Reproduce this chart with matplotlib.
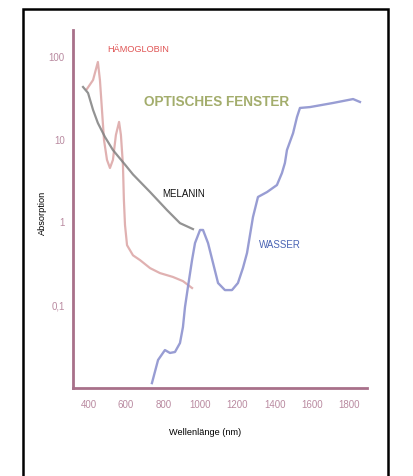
import matplotlib.pyplot as plt
from matplotlib.patches import Rectangle

plt.rcParams['font.family'] = ['Liberation Sans', 'DejaVu Sans']

# Absorptionsspektren, Wellenlänge in nm
melanin_nm = [368, 395, 422, 448, 486, 529, 594, 637, 729, 820, 890, 960]
melanin_abs = [43.4, 36.7, 22.9, 15.9, 10.8, 7.5, 5.0, 3.8, 2.33, 1.41, 0.98, 0.83]

haemo_nm = [389, 422, 448, 459, 470, 481, 497, 513, 529, 545, 562, 572, 583,
            588, 594, 605, 637, 675, 729, 782, 852, 906, 955]
haemo_abs = [41, 52.7, 87, 52.7, 22.9, 9.9, 5.7, 4.55, 5.7, 11.4, 16.4, 11.4, 4.9,
             1.87, 0.93, 0.53, 0.40, 0.35, 0.28, 0.244, 0.219, 0.195, 0.161]

wasser_nm = [739, 772, 809, 836, 863, 890, 906, 917, 933, 955, 971, 998, 1014,
             1041, 1068, 1095, 1132, 1170, 1202, 1229, 1251, 1283, 1310, 1359,
             1412, 1439, 1455, 1466, 1499, 1520, 1536, 1590, 1714, 1822, 1859]
wasser_abs = [0.0114, 0.0217, 0.0286, 0.0264, 0.0271, 0.0348, 0.0543, 0.0948,
              0.166, 0.351, 0.563, 0.81, 0.81, 0.563, 0.323, 0.185, 0.152, 0.152,
              0.185, 0.281, 0.427, 1.16, 2.03, 2.33, 2.83, 3.95, 5.23, 7.5, 12.0,
              18.8, 24.2, 24.8, 27.8, 31, 28.6]

x_ticks = [400, 600, 800, 1000, 1200, 1400, 1600, 1800]
y_ticks = [100, 10, 1, 0.1]
y_ticklabels = ['100', '10', '1', '0,1']

mauve = '#a8708a'
mauve_light = '#b98aa0'

fig = plt.figure(figsize=(4.14, 4.76), dpi=100)
fig.patches.append(Rectangle((23 / 414, -0.05), 365 / 414, 1 - 9 / 476 + 0.05,
                             transform=fig.transFigure, fill=False,
                             edgecolor='black', linewidth=1.8))

ax = fig.add_axes([73 / 414, 1 - 388 / 476, 294 / 414, 358 / 476])
ax.set_yscale('log')
ax.set_xlim(314, 1897)
ax.set_ylim(0.00995, 212)

ax.plot(haemo_nm, haemo_abs, color='#dba4a4', linewidth=1.6, alpha=0.85,
        solid_joinstyle='round')
ax.plot(melanin_nm, melanin_abs, color='#808080', linewidth=1.6, alpha=0.85,
        solid_joinstyle='round')
ax.plot(wasser_nm, wasser_abs, color='#8d92cf', linewidth=1.7, alpha=0.9,
        solid_joinstyle='round')

for side in ['top', 'right']:
    ax.spines[side].set_visible(False)
for side in ['left', 'bottom']:
    ax.spines[side].set_color(mauve)
    ax.spines[side].set_linewidth(2)

ax.set_xticks(x_ticks)
ax.set_xticklabels([str(t) for t in x_ticks])
ax.set_yticks(y_ticks)
ax.set_yticklabels(y_ticklabels)
ax.minorticks_off()
ax.tick_params(axis='both', length=0, labelsize=7, colors=mauve_light)
ax.tick_params(axis='x', pad=9)
ax.tick_params(axis='y', pad=6)

ax.set_xlabel('Wellenlänge (nm)', fontsize=6.6)
ax.xaxis.set_label_coords(0.449, -0.112)
ax.set_ylabel('Absorption', fontsize=6.6)
ax.yaxis.set_label_coords(-0.09, 0.49)

ax.text(0.116, 0.945, 'HÄMOGLOBIN', transform=ax.transAxes, fontsize=6.6,
        color='#e05555', ha='left', va='center')
ax.text(0.487, 0.80, 'OPTISCHES FENSTER', transform=ax.transAxes, fontsize=9.8,
        color='#a3ad6c', fontweight='bold', ha='center', va='center')
ax.text(0.375, 0.542, 'MELANIN', transform=ax.transAxes, fontsize=7,
        color='#111111', ha='center', va='center')
ax.text(0.705, 0.400, 'WASSER', transform=ax.transAxes, fontsize=7,
        color='#4a64b4', ha='center', va='center')

fig.savefig('out.png', dpi=100)
